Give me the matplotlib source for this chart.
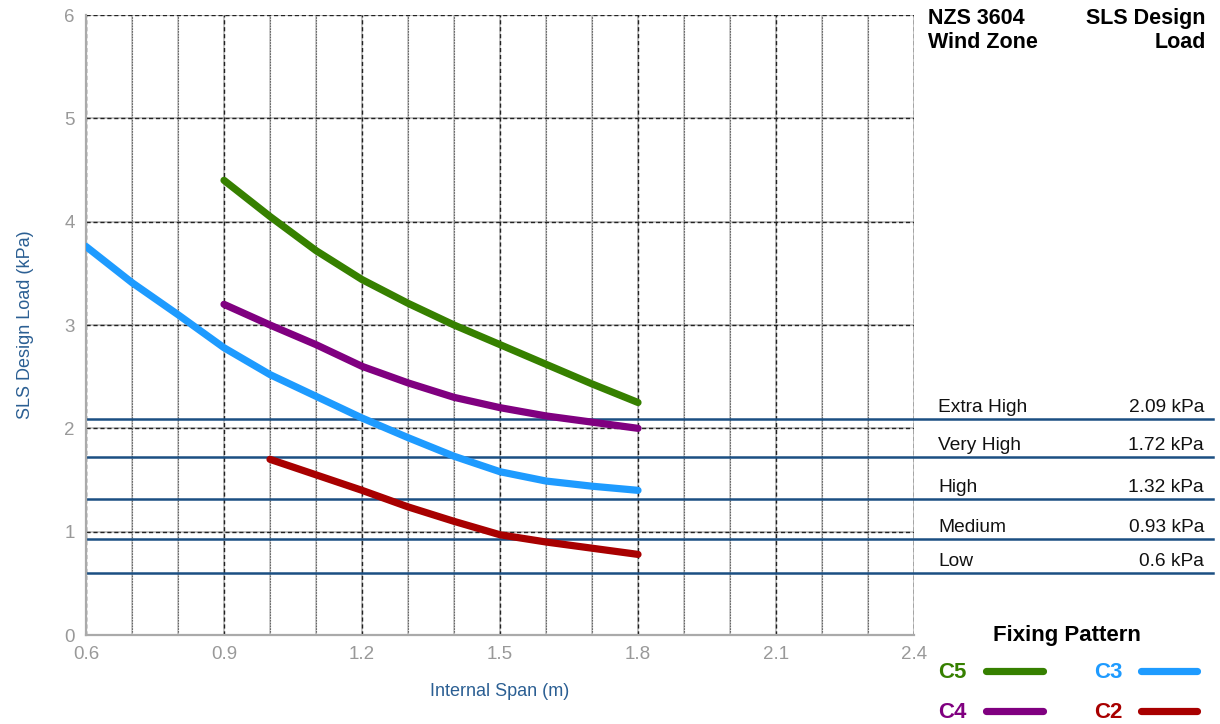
import matplotlib
matplotlib.use("Agg")
import matplotlib.pyplot as plt
from matplotlib.lines import Line2D
import matplotlib.transforms as mtransforms

plt.rcParams['font.family'] = ['Liberation Sans', 'DejaVu Sans']

# ---- data ----
span_c3 = [0.6, 0.7, 0.8, 0.9, 1.0, 1.1, 1.2, 1.3, 1.4, 1.5, 1.6, 1.7, 1.8]
load_c3 = [3.76, 3.41, 3.10, 2.78, 2.52, 2.31, 2.10, 1.91, 1.73, 1.58, 1.49, 1.44, 1.40]

span_c5 = [0.9, 1.0, 1.1, 1.2, 1.3, 1.4, 1.5, 1.6, 1.7, 1.8]
load_c5 = [4.40, 4.05, 3.72, 3.44, 3.21, 3.00, 2.81, 2.62, 2.43, 2.25]

span_c4 = [0.9, 1.0, 1.1, 1.2, 1.3, 1.4, 1.5, 1.6, 1.7, 1.8]
load_c4 = [3.20, 3.00, 2.81, 2.60, 2.44, 2.30, 2.20, 2.12, 2.06, 2.00]

span_c2 = [1.0, 1.1, 1.2, 1.3, 1.4, 1.5, 1.6, 1.7, 1.8]
load_c2 = [1.70, 1.55, 1.40, 1.24, 1.10, 0.97, 0.90, 0.84, 0.78]

zone_names = ["Extra High", "Very High", "High", "Medium", "Low"]
zone_loads = [2.09, 1.72, 1.32, 0.93, 0.6]

x_ticks = [0.6, 0.9, 1.2, 1.5, 1.8, 2.1, 2.4]
y_ticks = [0, 1, 2, 3, 4, 5, 6]

series = [("C5", span_c5, load_c5, "#368000"),
          ("C4", span_c4, load_c4, "#800080"),
          ("C3", span_c3, load_c3, "#1e9bff"),
          ("C2", span_c2, load_c2, "#a80000")]

# ---- figure ----
W, H = 1220, 724
fig = plt.figure(figsize=(W / 100, H / 100), dpi=100)
ax = fig.add_axes([86 / W, 1 - 635 / H, 828 / W, 620 / H])
ax.set_xlim(0.6, 2.4)
ax.set_ylim(0, 6)

# grid
minor_x = [round(0.6 + 0.1 * i, 1) for i in range(19)]
for xv in minor_x:
    if xv in x_ticks:
        ax.axvline(xv, color="#bbbbbb", lw=1.2, zorder=1)
        ax.axvline(xv, color="#222222", lw=1.0, ls=(0, (3, 2)), zorder=1.1)
    else:
        ax.axvline(xv, color="#c4c4c4", lw=1.2, zorder=1)
        ax.axvline(xv, color="#666666", lw=0.8, ls=(0, (1.5, 1)), zorder=1.1)
for yv in y_ticks[1:]:
    ax.axhline(yv, color="#bbbbbb", lw=1.2, zorder=1)
    ax.axhline(yv, color="#222222", lw=1.0, ls=(0, (3, 2)), zorder=1.1)

# spines
for s in ["top", "right"]:
    ax.spines[s].set_visible(False)
for s in ["left", "bottom"]:
    ax.spines[s].set_color("#aaaaaa")
    ax.spines[s].set_linewidth(1.6)

ax.set_xticks(x_ticks)
ax.set_xticklabels([f"{v:.1f}" for v in x_ticks])
ax.set_yticks(y_ticks)
ax.set_yticklabels([str(v) for v in y_ticks])
ax.tick_params(axis="both", length=0, labelsize=13.5, colors="#999999")
ax.tick_params(axis="x", pad=8)
ax.tick_params(axis="y", pad=8)

ax.set_xlabel("Internal Span (m)", fontsize=13, color="#2b5f93", labelpad=14)
ax.set_ylabel("SLS Design Load (kPa)", fontsize=13, color="#2b5f93", labelpad=22)

# wind zone lines
trans = mtransforms.blended_transform_factory(ax.transAxes, ax.transData)
x_end = (1213 - 86) / 828
for name, val in zip(zone_names, zone_loads):
    ax.plot([0, x_end], [val, val], transform=trans, color="#1b4f82",
            lw=1.8, clip_on=False, zorder=2)
    ax.annotate(name, xy=((938 - 86) / 828, val), xycoords=trans,
                xytext=(0, 5), textcoords="offset points",
                ha="left", va="baseline", fontsize=13.8, color="#111111",
                annotation_clip=False)
    ax.annotate(f"{val:g} kPa", xy=((1204 - 86) / 828, val), xycoords=trans,
                xytext=(0, 5), textcoords="offset points",
                ha="right", va="baseline", fontsize=13.8, color="#111111",
                annotation_clip=False)

# curves
for name, xs, ys, col in series:
    ax.plot(xs, ys, color=col, lw=5.2, solid_capstyle="round",
            solid_joinstyle="round", zorder=3)

# header
hdr = dict(fontsize=15.5, fontweight="bold", va="baseline")
fig.text(928 / W, 1 - 24 / H, "NZS 3604", ha="left", **hdr)
fig.text(928 / W, 1 - 48 / H, "Wind Zone", ha="left", **hdr)
fig.text(1206 / W, 1 - 24 / H, "SLS Design", ha="right", **hdr)
fig.text(1206 / W, 1 - 48 / H, "Load", ha="right", **hdr)

# custom legend
fig.text(1067 / W, 1 - 641 / H, "Fixing Pattern", fontsize=16, fontweight="bold",
         ha="center", va="baseline")
leg_pos = {"C5": (938, 678, 986, 1043, 671),
           "C4": (938, 718, 986, 1043, 711),
           "C3": (1094, 678, 1141, 1197, 671),
           "C2": (1094, 718, 1141, 1197, 711)}
for name, xs, ys, col in series:
    tx, ty, l0, l1, ly = leg_pos[name]
    fig.text(tx / W, 1 - ty / H, name, fontsize=16, fontweight="bold",
             color=col, ha="left", va="baseline")
    fig.add_artist(Line2D([l0 / W, l1 / W], [1 - ly / H, 1 - ly / H],
                          transform=fig.transFigure, color=col, lw=5.2,
                          solid_capstyle="round"))

fig.savefig("out.png", dpi=100)
